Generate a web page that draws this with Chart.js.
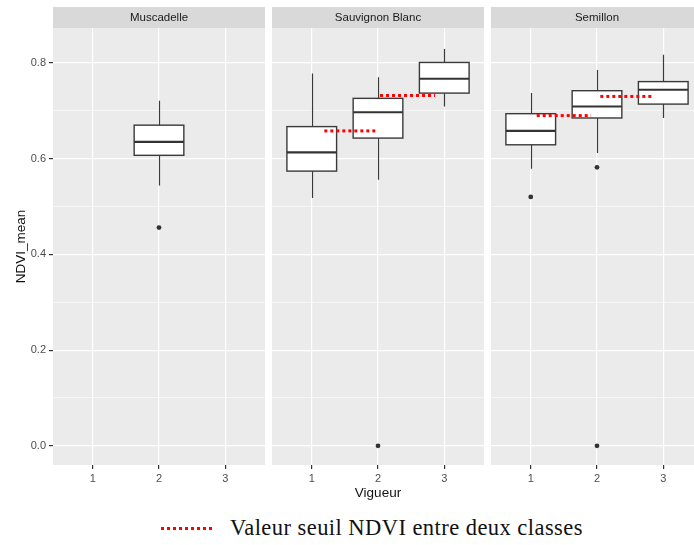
<!DOCTYPE html>
<html>
<head>
<meta charset="utf-8">
<script src="https://cdn.jsdelivr.net/npm/chart.js@4"></script>
<style>
  body { margin: 0; background: #fff; width: 694px; height: 545px; position: relative; overflow: hidden; }
  canvas { position: absolute; top: 0; }
  #legendLine { position: absolute; left: 161px; top: 527px; width: 54px; height: 3px;
    background: repeating-linear-gradient(to right, #ff0000 0 3px, transparent 3px 6px); }
  #legendText { position: absolute; left: 230px; top: 517px; font: 22.5px/22px 'Liberation Serif', 'Times New Roman', serif;
    letter-spacing: 0.45px; color: #111; white-space: nowrap; }
</style>
</head>
<body>
<canvas id="muscadelle" width="265" height="505" style="left:0px"></canvas>
<canvas id="sauvignon" width="212" height="505" style="left:272px"></canvas>
<canvas id="semillon" width="212" height="505" style="left:491px"></canvas>
<div id="legendLine"></div>
<div id="legendText">Valeur seuil NDVI entre deux classes</div>
<script>
// facets and axes
const panels = ['Muscadelle', 'Sauvignon Blanc', 'Semillon'];
const vigueur = [1, 2, 3];
const yRange = [-0.04, 0.873];

// box stats: [vigueur, lower whisker, q1, median, q3, upper whisker]
const muscadelleBox = [[2, 0.544, 0.607, 0.635, 0.670, 0.721]];
const sauvignonBox = [
    [1, 0.518, 0.574, 0.613, 0.667, 0.778],
    [2, 0.556, 0.643, 0.697, 0.726, 0.770],
    [3, 0.709, 0.737, 0.767, 0.801, 0.829]
];
const semillonBox = [
    [1, 0.579, 0.629, 0.658, 0.694, 0.737],
    [2, 0.612, 0.685, 0.709, 0.742, 0.785],
    [3, 0.685, 0.714, 0.744, 0.761, 0.817]
];

// outliers
const muscadelleOut = [{ x: 2, y: 0.456 }];
const sauvignonOut = [{ x: 2, y: 0.0 }];
const semillonOut = [{ x: 1, y: 0.520 }, { x: 2, y: 0.582 }, { x: 2, y: 0.0 }];

// threshold between classes: [from, to, value]
const muscadelleSeuil = [];
const sauvignonSeuil = [[1.19, 2.0, 0.658], [2.03, 2.86, 0.732]];
const semillonSeuil = [[1.09, 1.91, 0.690], [2.05, 2.85, 0.730]];

Chart.defaults.font.family = "'Liberation Sans', Arial, sans-serif";
Chart.defaults.font.size = 11;

const boxplotPlugin = {
    id: 'boxplot',
    beforeDraw(chart, args, opts) {
        const { ctx, chartArea: a } = chart;
        ctx.save();
        ctx.fillStyle = '#EBEBEB';
        ctx.fillRect(a.left, a.top, a.width, a.height);
        ctx.fillStyle = '#D9D9D9';
        ctx.fillRect(a.left, 7, a.width, a.top - 7);
        ctx.fillStyle = '#1A1A1A';
        ctx.font = "11.5px 'Liberation Sans', Arial, sans-serif";
        ctx.textAlign = 'center';
        ctx.textBaseline = 'middle';
        ctx.fillText(opts.strip, (a.left + a.right) / 2, (7 + a.top) / 2 + 0.5);
        ctx.restore();
    },
    beforeDatasetsDraw(chart, args, opts) {
        const { ctx, scales: { x, y } } = chart;
        ctx.save();
        opts.boxes.forEach(([v, lo, q1, med, q3, hi]) => {
            const xc = Math.round(x.getPixelForValue(v)) + 0.5;
            const x0 = x.getPixelForValue(v - 0.375);
            const x1 = x.getPixelForValue(v + 0.375);
            ctx.strokeStyle = '#3a3a3a';
            ctx.lineWidth = 1.2;
            ctx.beginPath();
            ctx.moveTo(xc, y.getPixelForValue(hi));
            ctx.lineTo(xc, y.getPixelForValue(q3));
            ctx.moveTo(xc, y.getPixelForValue(q1));
            ctx.lineTo(xc, y.getPixelForValue(lo));
            ctx.stroke();
            const top = y.getPixelForValue(q3), bot = y.getPixelForValue(q1);
            ctx.fillStyle = '#ffffff';
            ctx.fillRect(x0, top, x1 - x0, bot - top);
            ctx.lineWidth = 1.4;
            ctx.strokeRect(x0, top, x1 - x0, bot - top);
            ctx.lineWidth = 2.2;
            ctx.strokeStyle = '#333333';
            ctx.beginPath();
            ctx.moveTo(x0, y.getPixelForValue(med));
            ctx.lineTo(x1, y.getPixelForValue(med));
            ctx.stroke();
        });
        ctx.restore();
    }
};

function isMajor(v) {
    return Math.round(v * 10) % 2 === 0;
}

function makePanel(id, name, boxes, outliers, seuil, first, middle) {
    const datasets = [{
        data: outliers,
        backgroundColor: '#333333',
        borderWidth: 0,
        pointRadius: 2.4
    }];
    seuil.forEach(s => {
        datasets.push({
            data: [{ x: s[0], y: s[2] }, { x: s[1], y: s[2] }],
            showLine: true,
            borderColor: '#ff0000',
            borderWidth: 3,
            borderDash: [3, 3],
            pointRadius: 0
        });
    });

    const ctx = document.getElementById(id).getContext('2d');
    new Chart(ctx, {
        type: 'scatter',
        data: { datasets: datasets },
        plugins: [boxplotPlugin],
        options: {
            responsive: false,
            animation: false,
            devicePixelRatio: 1,
            layout: { autoPadding: false, padding: { top: 28, left: 0, right: 0, bottom: 0 } },
            plugins: {
                legend: { display: false },
                tooltip: { enabled: false },
                boxplot: { strip: name, boxes: boxes }
            },
            scales: {
                x: {
                    type: 'linear',
                    min: 0.4,
                    max: 3.6,
                    afterFit: s => { s.height = 40; },
                    afterBuildTicks: s => { s.ticks = vigueur.map(v => ({ value: v })); },
                    border: { display: false },
                    grid: { color: '#ffffff', lineWidth: 1.2, tickColor: '#333333', tickLength: 4 },
                    ticks: { color: '#4D4D4D', padding: 3, maxRotation: 0, callback: v => String(v) },
                    title: {
                        display: middle,
                        text: 'Vigueur',
                        color: '#111111',
                        font: { size: 13.5 },
                        padding: { top: 4, bottom: 4 }
                    }
                },
                y: {
                    min: yRange[0],
                    max: yRange[1],
                    afterFit: s => { s.width = first ? 53 : 0; },
                    border: { display: false },
                    grid: {
                        color: '#ffffff',
                        lineWidth: c => isMajor(c.tick.value) ? 1.2 : 0.6,
                        tickColor: c => isMajor(c.tick.value) ? '#333333' : 'rgba(0,0,0,0)',
                        tickLength: 4,
                        drawTicks: first
                    },
                    ticks: {
                        display: first,
                        stepSize: 0.1,
                        includeBounds: false,
                        color: '#4D4D4D',
                        padding: 3,
                        callback: v => isMajor(v) ? v.toFixed(1) : ''
                    },
                    title: {
                        display: first,
                        text: 'NDVI_mean',
                        color: '#111111',
                        font: { size: 13.5 },
                        padding: { top: 13, bottom: 0 }
                    }
                }
            }
        }
    });
}

makePanel('muscadelle', panels[0], muscadelleBox, muscadelleOut, muscadelleSeuil, true, false);
makePanel('sauvignon', panels[1], sauvignonBox, sauvignonOut, sauvignonSeuil, false, true);
makePanel('semillon', panels[2], semillonBox, semillonOut, semillonSeuil, false, false);
</script>
</body>
</html>
